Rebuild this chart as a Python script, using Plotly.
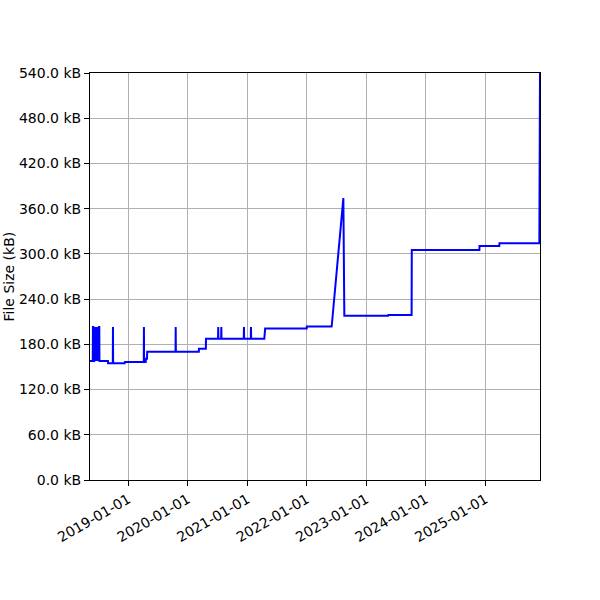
import plotly.graph_objects as go

dates = [
    "2018-05-11", "2018-05-28", "2018-05-29", "2018-05-31", "2018-06-01",
    "2018-06-06", "2018-06-07", "2018-06-09", "2018-06-14", "2018-06-16",
    "2018-06-20", "2018-06-22", "2018-06-27", "2018-06-29", "2018-07-05",
    "2018-07-07", "2018-07-08", "2018-08-29", "2018-08-30", "2018-09-28",
    "2018-09-29", "2018-09-30", "2018-12-10", "2018-12-12", "2019-04-06",
    "2019-04-07", "2019-04-08", "2019-04-18", "2019-04-19", "2019-04-26",
    "2019-04-27", "2019-10-18", "2019-10-19", "2019-10-20", "2020-03-09",
    "2020-03-10", "2020-04-21", "2020-04-22", "2020-07-05", "2020-07-06",
    "2020-07-07", "2020-07-24", "2020-07-25", "2020-07-26", "2020-12-10",
    "2020-12-11", "2020-12-12", "2021-01-22", "2021-01-23", "2021-01-24",
    "2021-04-15", "2021-04-16", "2021-04-17", "2021-04-19", "2021-04-20",
    "2021-12-31", "2022-01-01", "2022-06-02", "2022-06-03", "2022-08-13",
    "2022-08-19", "2023-05-15", "2023-05-16", "2023-10-06", "2023-10-07",
    "2024-11-25", "2024-11-26", "2025-03-27", "2025-03-28", "2025-11-28",
    "2025-12-02",
]
sizes_kb = [
    158, 158, 203, 203, 158,
    158, 203, 158, 203, 158,
    203, 158, 203, 158, 203,
    203, 158, 158, 155, 155,
    203, 155, 155, 156.5, 156.5,
    203, 156.5, 156.5, 161, 161,
    170, 170, 203, 170, 170,
    174, 174, 187.5, 187.5, 203,
    187.5, 187.5, 203, 187.5, 187.5,
    203, 187.5, 187.5, 203, 187.5,
    187.5, 201, 187.5, 187.5, 201,
    201, 203.5, 203.5, 205, 374,
    218, 218, 219, 219, 305,
    305, 310.5, 310.5, 314, 314,
    540,
]

x_ticks = ["2019-01-01", "2020-01-01", "2021-01-01", "2022-01-01",
           "2023-01-01", "2024-01-01", "2025-01-01"]
y_ticks = [0, 60, 120, 180, 240, 300, 360, 420, 480, 540]
y_tick_labels = [f"{v:.1f} kB" for v in y_ticks]

FONT = "DejaVu Sans"
FS = 14

fig = go.Figure()
fig.add_trace(go.Scatter(
    x=dates, y=sizes_kb, mode="lines",
    line=dict(color="#0000ff", width=2),
    showlegend=False, hoverinfo="skip",
))

fig.update_layout(
    width=600, height=600,
    margin=dict(l=90, r=60, t=73, b=120),
    paper_bgcolor="white", plot_bgcolor="white",
    font=dict(family=FONT, size=FS, color="black"),
)
fig.update_xaxes(
    type="date", range=[dates[0], dates[-1]],
    tickvals=x_ticks, ticktext=x_ticks, tickangle=-30,
    showgrid=True, gridcolor="#b0b0b0", gridwidth=1,
    showline=True, linecolor="black", linewidth=1, mirror=True,
    ticks="outside", ticklen=5, tickcolor="black",
    zeroline=False, automargin=False,
)
fig.update_yaxes(
    range=[0, 540],
    tickvals=y_ticks, ticktext=y_tick_labels,
    showgrid=True, gridcolor="#b0b0b0", gridwidth=1,
    showline=True, linecolor="black", linewidth=1, mirror=True,
    ticks="outside", ticklen=5, tickcolor="black",
    zeroline=False, automargin=False,
)
fig.add_annotation(
    text="File Size (kB)", textangle=-90,
    xref="paper", yref="paper", x=(8 - 90) / 450, y=0.5,
    xanchor="center", yanchor="middle", showarrow=False,
    font=dict(family=FONT, size=FS, color="black"),
)

fig.write_html("out.html",
               config={"displayModeBar": False},
               post_script="document.body.style.margin='0';document.body.style.padding='0';")
